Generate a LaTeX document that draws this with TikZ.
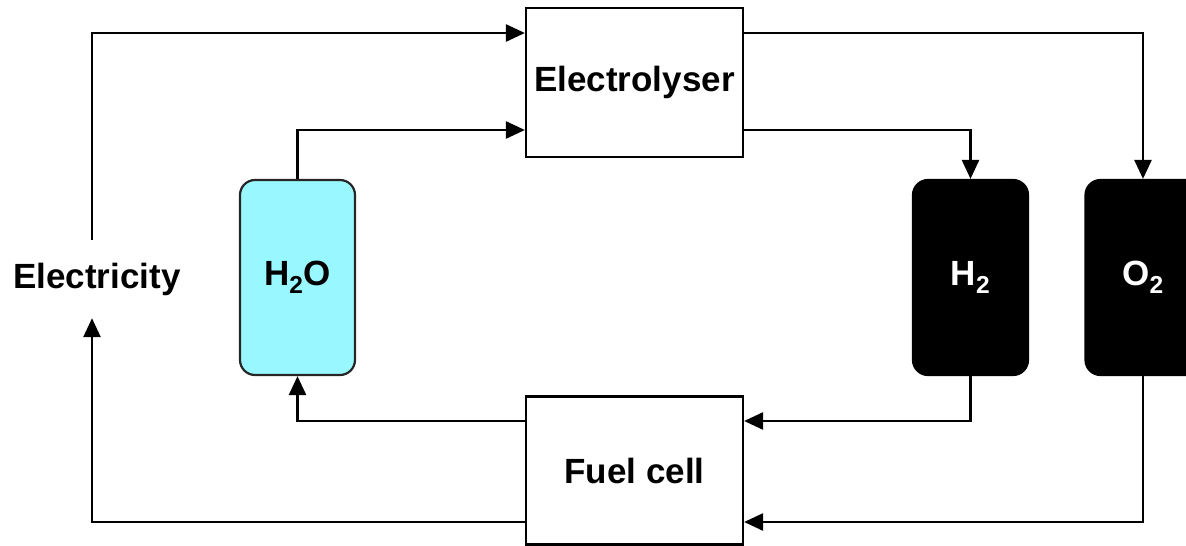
\documentclass[tikz,border=0pt]{standalone}
\usepackage{fontspec}
\setmainfont{Liberation Sans}
\usetikzlibrary{arrows.meta,calc}
\definecolor{watercyan}{RGB}{153,248,255}
\begin{document}
\begin{tikzpicture}[x=1pt,y=-1pt,
  lbl/.style={font=\bfseries\fontsize{35}{40}\selectfont},
  procbox/.style={draw=black, line width=2.2pt, fill=white, minimum width=217pt, inner sep=0pt, lbl},
  tank/.style={rounded corners=15pt, line width=2.2pt, minimum width=115pt, minimum height=195pt, inner sep=0pt, lbl},
  flow/.style={line width=2.6pt, -{Triangle[length=19pt,width=17pt]}}]
\useasboundingbox (0,0) rectangle (1186,546);
\node[procbox, minimum height=149pt] (el) at (634.5,82.5) {Electrolyser};
\node[procbox, minimum height=148pt] (fc) at (634.5,470.5) {Fuel cell};
\node[tank, draw=black!85, fill=watercyan, text=black] (h2o) at (297.5,277.5) {H\textsubscript{2}O};
\node[tank, draw=black, fill=black, text=white] (h2) at (970.5,277.5) {H\textsubscript{2}};
\node[tank, draw=black, fill=black, text=white] (o2) at (1143,277.5) {O\textsubscript{2}};
\node[lbl, minimum height=78pt, inner sep=0pt] (elec) at (97,279) {Electricity};
\coordinate (ex) at (92,0);
\coordinate (y33) at (0,33);
\coordinate (y130) at (0,130);
\coordinate (y421) at (0,421);
\coordinate (y522) at (0,522);
\draw[flow] (elec.north -| ex) |- (el.west |- y33);
\draw[flow] (h2o.north) |- (el.west |- y130);
\draw[flow] (el.east |- y33) -| (o2.north);
\draw[flow] (el.east |- y130) -| (h2.north);
\draw[flow] (h2.south) |- (fc.east |- y421);
\draw[flow] (o2.south) |- (fc.east |- y522);
\draw[flow] (fc.west |- y421) -| (h2o.south);
\draw[flow] (fc.west |- y522) -| (elec.south -| ex);
\end{tikzpicture}
\end{document}
